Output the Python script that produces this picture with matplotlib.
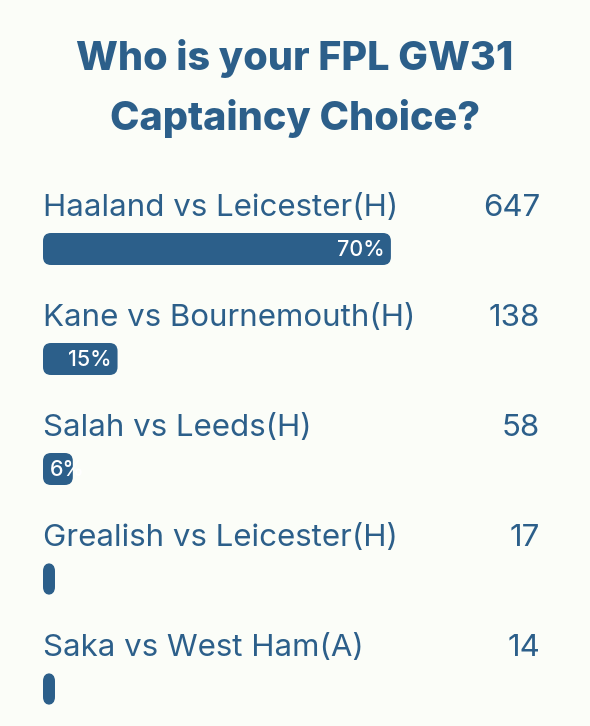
import matplotlib
matplotlib.use("Agg")
import matplotlib.pyplot as plt
from matplotlib.patches import FancyBboxPatch

# poll data
options = ["Haaland vs Leicester(H)", "Kane vs Bournemouth(H)", "Salah vs Leeds(H)",
           "Grealish vs Leicester(H)", "Saka vs West Ham(A)"]
votes = [647, 138, 58, 17, 14]
pcts = [70, 15, 6, 2, 2]
title_lines = ["Who is your FPL GW31", "Captaincy Choice?"]

blue = "#2c5f8a"
bg = "#fbfdf8"
plt.rcParams['font.family'] = ['Inter', 'DejaVu Sans']

W, H = 590, 726
fig = plt.figure(figsize=(W / 100, H / 100), dpi=100, facecolor=bg)
ax = fig.add_axes([0, 0, 1, 1])
ax.set_facecolor(bg)
ax.axis("off")

# x in percent: 0 -> px 43, 100 -> px 540
px_per_pct = (540 - 43) / 100.
ax.set_xlim(-43 / px_per_pct, (W - 43) / px_per_pct)
# y in rows: bar centre of row i at px 249 + 110 i
row_px = 110.
ax.set_ylim((H - 249) / row_px, -249 / row_px)

bar_h = 32 / row_px
rad = 8.
min_w = 12 / px_per_pct
aspect = px_per_pct / row_px

fig.text(0.5, 1 - 58 / H, title_lines[0], ha="center", va="center",
         fontsize=28.5, fontweight="heavy", color=blue)
fig.text(0.5, 1 - 118 / H, title_lines[1], ha="center", va="center",
         fontsize=28.5, fontweight="heavy", color=blue)

fig.canvas.draw()
r = fig.canvas.get_renderer()
for i, (name, v, p) in enumerate(zip(options, votes, pcts)):
    ax.text(0, i - 41 / row_px, name, ha="left", va="center", fontsize=22.5, color=blue)
    ax.text(100, i - 41 / row_px, str(v), ha="right", va="center", fontsize=22.5, color=blue)
    w = max(p, min_w)
    bar = FancyBboxPatch((0, i - bar_h / 2), w, bar_h,
                         boxstyle="round,pad=0,rounding_size=%f" % (rad / px_per_pct),
                         mutation_aspect=aspect, fc=blue, ec="none")
    ax.add_patch(bar)
    if p >= 5:
        t = ax.text(w - 6 / px_per_pct, i + 1 / row_px, "%d%%" % p, ha="right", va="center",
                    fontsize=15.5, fontweight="medium", color="white")
        t.set_clip_path(bar)
        ext = t.get_window_extent(renderer=r)
        x0 = ax.transData.transform((0, 0))[0]
        if ext.x0 < x0 + 7:
            t.set_ha("left")
            t.set_x(7 / px_per_pct)

fig.savefig("out.png", dpi=100, facecolor=bg)
